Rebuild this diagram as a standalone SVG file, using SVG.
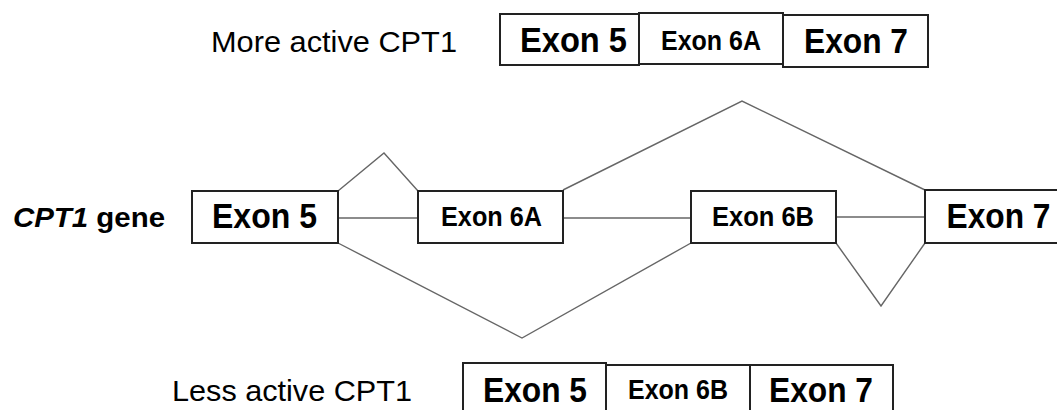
<svg xmlns="http://www.w3.org/2000/svg" width="1057" height="410" viewBox="0 0 1057 410">
<style>
.box{fill:#fff;stroke:#222;stroke-width:2}
.big{font-family:"Liberation Sans",Arial,sans-serif;font-weight:bold;font-size:35px;fill:#000;text-anchor:middle}
.mid{font-family:"Liberation Sans",Arial,sans-serif;font-weight:bold;font-size:28px;fill:#000;text-anchor:middle}
.lbl{font-family:"Liberation Sans",Arial,sans-serif;font-size:30px;fill:#000}
.ln{fill:none;stroke:#666;stroke-width:1.4;stroke-linejoin:miter}
</style>
<rect width="1057" height="410" fill="#fff"/>
<g id="connectors">
<line class="ln" x1="338" y1="218" x2="418" y2="218"/>
<line class="ln" x1="563" y1="218" x2="691" y2="218"/>
<line class="ln" x1="836" y1="217" x2="925" y2="217"/>
<polyline class="ln" points="338,191 384,153 418,191"/>
<polyline class="ln" points="563,190 742,101 925,190"/>
<polyline class="ln" points="338,243 522,338 691,243"/>
<polyline class="ln" points="836,243 881,306 925,243"/>
</g>
<g id="label-more"><text class="lbl" x="211" y="52" textLength="246" lengthAdjust="spacingAndGlyphs">More active CPT1</text></g>
<g id="label-less"><text class="lbl" x="172" y="401" textLength="240" lengthAdjust="spacingAndGlyphs">Less active CPT1</text></g>
<g id="label-gene"><text x="13" y="227" font-family="Liberation Sans, Arial, sans-serif" font-weight="bold" font-size="28" textLength="152" lengthAdjust="spacingAndGlyphs"><tspan font-style="italic">CPT1</tspan> gene</text></g>
<g id="top-exon5"><rect class="box" x="500" y="14" width="139" height="51"/><text class="big" x="573.5" y="52" textLength="107" lengthAdjust="spacingAndGlyphs">Exon 5</text></g>
<g id="top-exon6a"><rect class="box" x="639" y="13" width="144" height="51"/><text class="mid" x="711" y="50" textLength="100" lengthAdjust="spacingAndGlyphs">Exon 6A</text></g>
<g id="top-exon7"><rect class="box" x="783" y="15" width="145" height="52"/><text class="big" x="856" y="53" textLength="104" lengthAdjust="spacingAndGlyphs">Exon 7</text></g>
<g id="gene-exon5"><rect class="box" x="192" y="191" width="146" height="52"/><text class="big" x="264.5" y="228" textLength="105" lengthAdjust="spacingAndGlyphs">Exon 5</text></g>
<g id="gene-exon6a"><rect class="box" x="418" y="191" width="145" height="52"/><text class="mid" x="491.5" y="226" textLength="101" lengthAdjust="spacingAndGlyphs">Exon 6A</text></g>
<g id="gene-exon6b"><rect class="box" x="691" y="191" width="145" height="52"/><text class="mid" x="763" y="226" textLength="102" lengthAdjust="spacingAndGlyphs">Exon 6B</text></g>
<g id="gene-exon7"><rect class="box" x="925" y="190" width="140" height="53"/><text class="big" x="998.5" y="228" textLength="104" lengthAdjust="spacingAndGlyphs">Exon 7</text></g>
<g id="bot-exon5"><rect class="box" x="463" y="363" width="143" height="60"/><text class="big" x="535" y="402" textLength="104" lengthAdjust="spacingAndGlyphs">Exon 5</text></g>
<g id="bot-exon6b"><rect class="box" x="606" y="365" width="144" height="60"/><text class="mid" x="678" y="399" textLength="100" lengthAdjust="spacingAndGlyphs">Exon 6B</text></g>
<g id="bot-exon7"><rect class="box" x="750" y="365" width="143" height="60"/><text class="big" x="821" y="402" textLength="104" lengthAdjust="spacingAndGlyphs">Exon 7</text></g>
</svg>
